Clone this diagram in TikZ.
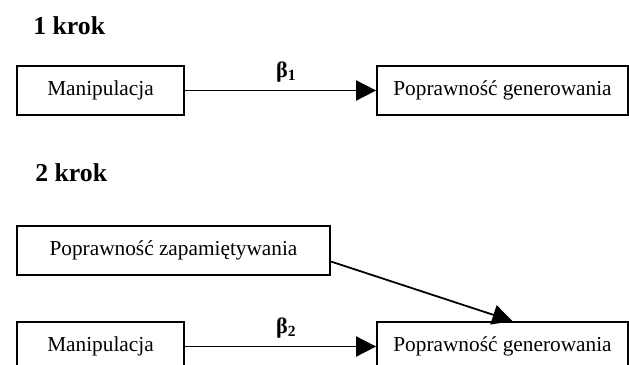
\documentclass[tikz,border=0pt]{standalone}
\usepackage{fontspec}
\setmainfont{Liberation Serif}
\usetikzlibrary{arrows.meta,positioning,calc}

\begin{document}
\begin{tikzpicture}[
  x=0.5634pt, y=-0.5634pt,
  font=\fontsize{12}{14}\selectfont,
  box/.style={draw, line width=1pt, inner sep=0pt, minimum height=27.6pt},
  shortbox/.style={box, minimum width=94.1pt},
  longbox/.style={box, minimum width=141.4pt},
  widebox/.style={box, minimum width=176.3pt},
  krok/.style={anchor=base west, inner sep=0pt,
               font=\fontsize{14.5}{17}\selectfont\bfseries},
  arr/.style={-{Triangle[length=11.3pt,width=11.3pt]}, line width=1pt},
  coef/.style={font=\fontsize{12.5}{14}\selectfont\bfseries, above=1pt},
]
\useasboundingbox (0,0) rectangle (629,365);
\clip (0,0) rectangle (629,365);

% 1 krok
\node[krok] (k1) at (33,35) {1 krok};
\node[shortbox] (man1) at (100.5,90.5) {Manipulacja};
\node[longbox] (gen1) at (502.5,90.5) {Poprawność generowania};
\draw[arr] (man1) -- node[coef, pos=0.53] {β\textsubscript{1}} (gen1);

% 2 krok
\node[krok] (k2) at (35,182) {2 krok};
\node[widebox] (zap) at (173.5,250.5) {Poprawność zapamiętywania};
\node[shortbox] (man2) at (100.5,346.5) {Manipulacja};
\node[longbox] (gen2) at (502.5,346.5) {Poprawność generowania};
\draw[arr] (man2) -- node[coef, pos=0.53] {β\textsubscript{2}} (gen2);
\draw[arr] ($(zap.east)+(0,11)$) -- ($(gen2.north)+(10,0)$);
\end{tikzpicture}
\end{document}
